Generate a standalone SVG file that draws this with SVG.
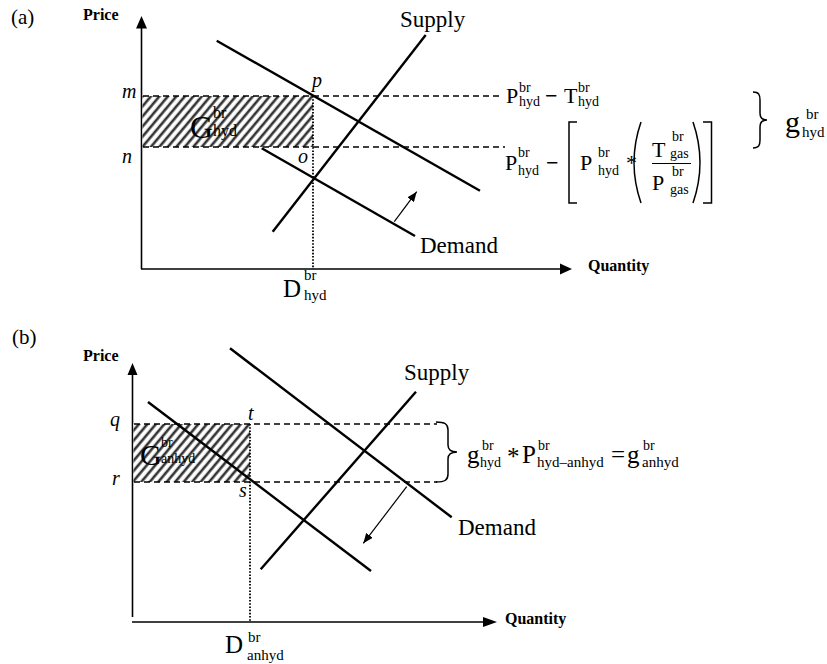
<svg xmlns="http://www.w3.org/2000/svg" width="827" height="664" viewBox="0 0 827 664">
<style>
.ln{stroke:#000;stroke-width:2.4;fill:none}
.ax{stroke:#000;stroke-width:1.6;fill:none}
.dash{stroke:#000;stroke-width:1.4;stroke-dasharray:6 4;fill:none}
.dot{stroke:#000;stroke-width:1.8;stroke-dasharray:1.6 1.6;fill:none}
.thin{stroke:#000;stroke-width:1.2;fill:none}
.br{stroke:#000;stroke-width:1.5;fill:none}
.t{font-family:"Liberation Serif","Times New Roman",serif;fill:#000}
.bd{font-family:"Liberation Serif","Times New Roman",serif;font-weight:bold;font-size:16px;fill:#000}
.i{font-style:italic}
.s{font-size:14px}
.m{font-weight:bold}
</style>
<defs>
<pattern id="hatch" patternUnits="userSpaceOnUse" width="6.5" height="10" patternTransform="rotate(40)">
<rect width="6.5" height="10" fill="#fff"/>
<line x1="2" y1="0" x2="2" y2="10" stroke="#333" stroke-width="2.6"/>
</pattern>
<marker id="ah" viewBox="0 0 10 8" refX="10" refY="4" markerWidth="10" markerHeight="8" markerUnits="userSpaceOnUse" orient="auto">
<path d="M0 0 L10 4 L0 8 Z" fill="#000"/>
</marker>
</defs>

<!-- Panel (a) -->
<g id="panel-a">
<text class="t" x="11" y="24" font-size="21">(a)</text>
<g id="a-axes">
<line class="ax" x1="141.5" y1="27" x2="141.5" y2="269"/>
<path d="M141.5 16 L136 28.5 L147 28.5 Z" fill="#000"/>
<line class="ax" x1="141" y1="269" x2="561" y2="269"/>
<path d="M572 269 L560 263.5 L560 274.5 Z" fill="#000"/>
<text class="bd" x="83" y="20">Price</text>
<text class="bd" x="588" y="271">Quantity</text>
</g>
<g id="a-area">
<rect x="142.5" y="96" width="170.5" height="51" fill="url(#hatch)"/>
<text class="t" font-size="32"><tspan x="190" y="138">G</tspan><tspan x="213" y="118" font-size="16">br</tspan><tspan x="213" y="136" font-size="16">hyd</tspan></text>
</g>
<g id="a-connectors">
<line class="dash" x1="143" y1="96" x2="503" y2="96"/>
<line class="dash" x1="143" y1="147" x2="505" y2="147"/>
<line class="dot" x1="313" y1="96" x2="313" y2="269"/>
<line class="ln" x1="216.7" y1="40.7" x2="480" y2="190.7"/>
<line class="ln" x1="261.7" y1="148.3" x2="415" y2="236"/>
<line class="ln" x1="272.7" y1="231.7" x2="425.7" y2="35"/>
<line class="thin" x1="394.3" y1="221.7" x2="416.7" y2="191.7" marker-end="url(#ah)"/>
</g>
<g id="a-labels">
<text class="t" x="400" y="27" font-size="23">Supply</text>
<text class="t" x="420" y="253" font-size="23">Demand</text>
<text class="t i" x="122" y="98" font-size="20">m</text>
<text class="t i" x="122" y="163" font-size="20">n</text>
<text class="t i" x="312" y="87" font-size="20">p</text>
<text class="t i" x="298" y="163" font-size="20">o</text>
<text class="t" font-size="25"><tspan x="283" y="297">D</tspan><tspan x="304" y="280" font-size="15">br</tspan><tspan x="304" y="300" font-size="15">hyd</tspan></text>
</g>
<g id="a-formula1">
<text class="t" font-size="22"><tspan x="506" y="103">P</tspan><tspan x="519" y="92" class="s">br</tspan><tspan x="519" y="106" class="s">hyd</tspan><tspan x="545" y="103" class="m">−</tspan><tspan x="564" y="103">T</tspan><tspan x="578" y="92" class="s">br</tspan><tspan x="578" y="106" class="s">hyd</tspan></text>
</g>
<g id="a-formula2">
<text class="t" font-size="22"><tspan x="505" y="170">P</tspan><tspan x="518" y="157" class="s">br</tspan><tspan x="518" y="175" class="s">hyd</tspan><tspan x="546" y="170" class="m">−</tspan><tspan x="580" y="170">P</tspan><tspan x="598" y="157" class="s">br</tspan><tspan x="598" y="175" class="s">hyd</tspan><tspan x="626" y="170">*</tspan></text>
<text class="t" font-size="22"><tspan x="652" y="157">T</tspan><tspan x="672" y="141" class="s">br</tspan><tspan x="670" y="158" class="s">gas</tspan></text>
<text class="t" font-size="22"><tspan x="652" y="190">P</tspan><tspan x="672" y="176" class="s">br</tspan><tspan x="670" y="194" class="s">gas</tspan></text>
<line class="thin" x1="652" y1="163.5" x2="691" y2="163.5"/>
<path class="br" d="M577 122 L569 122 L569 203 L577 203"/>
<path class="br" d="M703 122 L711.5 122 L711.5 203 L703 203"/>
<path class="br" d="M641 122 Q627 162.5 641 203"/>
<path class="br" d="M693 122 Q707 162.5 693 203"/>
</g>
<g id="a-brace">
<path class="br" d="M753 92 C759 92 760 95 760 100 L760 113 C760 118 762 120 767 120 C762 120 760 122 760 127 L760 140 C760 145 759 148 753 148"/>
<text class="t" font-size="30"><tspan x="785" y="132">g</tspan><tspan x="806" y="119" font-size="15">br</tspan><tspan x="802" y="137" font-size="15">hyd</tspan></text>
</g>
</g>

<!-- Panel (b) -->
<g id="panel-b">
<text class="t" x="12" y="344" font-size="21">(b)</text>
<g id="b-axes">
<line class="ax" x1="132.5" y1="374" x2="132.5" y2="617"/>
<path d="M132.5 363 L127.5 375 L137.5 375 Z" fill="#000"/>
<line class="ax" x1="132" y1="622" x2="484" y2="622"/>
<path d="M497 622 L483 617 L483 627 Z" fill="#000"/>
<text class="bd" x="83" y="361">Price</text>
<text class="bd" x="505" y="624">Quantity</text>
</g>
<g id="b-area">
<rect x="133.5" y="424" width="116.5" height="58" fill="url(#hatch)"/>
<text class="t" font-size="30"><tspan x="140" y="465">G</tspan><tspan x="161" y="447" class="s">br</tspan><tspan x="161" y="463" class="s">anhyd</tspan></text>
</g>
<g id="b-connectors">
<line class="dash" x1="134" y1="424" x2="437" y2="424"/>
<line class="dash" x1="134" y1="482" x2="437" y2="482"/>
<line class="dot" x1="250" y1="424" x2="250" y2="622"/>
<line class="ln" x1="230" y1="348.3" x2="451.7" y2="517.3"/>
<line class="ln" x1="148" y1="402" x2="371" y2="571"/>
<line class="ln" x1="260.7" y1="569.3" x2="416" y2="391.7"/>
<line class="thin" x1="406.7" y1="486.7" x2="363.3" y2="543.3" marker-end="url(#ah)"/>
</g>
<g id="b-labels">
<text class="t" x="404" y="380" font-size="23">Supply</text>
<text class="t" x="458" y="535" font-size="23">Demand</text>
<text class="t i" x="110" y="426" font-size="20">q</text>
<text class="t i" x="112" y="485" font-size="20">r</text>
<text class="t i" x="248" y="420" font-size="20">t</text>
<text class="t i" x="239" y="497" font-size="20">s</text>
<text class="t" font-size="25"><tspan x="225" y="653">D</tspan><tspan x="248" y="642" font-size="15">br</tspan><tspan x="247" y="660" font-size="15">anhyd</tspan></text>
</g>
<g id="b-brace">
<path class="br" d="M436 422 C445 422 448 424 448 430 L448 445 C448 450 451 452 457 452 C451 452 448 454 448 459 L448 474 C448 480 445 482 436 482"/>
<text class="t" font-size="25"><tspan x="467" y="463">g</tspan><tspan x="482" y="450" class="s">br</tspan><tspan x="480" y="467" class="s">hyd</tspan><tspan x="507" y="465">*</tspan><tspan x="522" y="463">P</tspan><tspan x="538" y="450" class="s">br</tspan><tspan x="537" y="467" font-size="15">hyd–anhyd</tspan><tspan x="611" y="463">=</tspan><tspan x="627" y="463">g</tspan><tspan x="643" y="450" class="s">br</tspan><tspan x="642" y="467" font-size="15">anhyd</tspan></text>
</g>
</g>
</svg>
